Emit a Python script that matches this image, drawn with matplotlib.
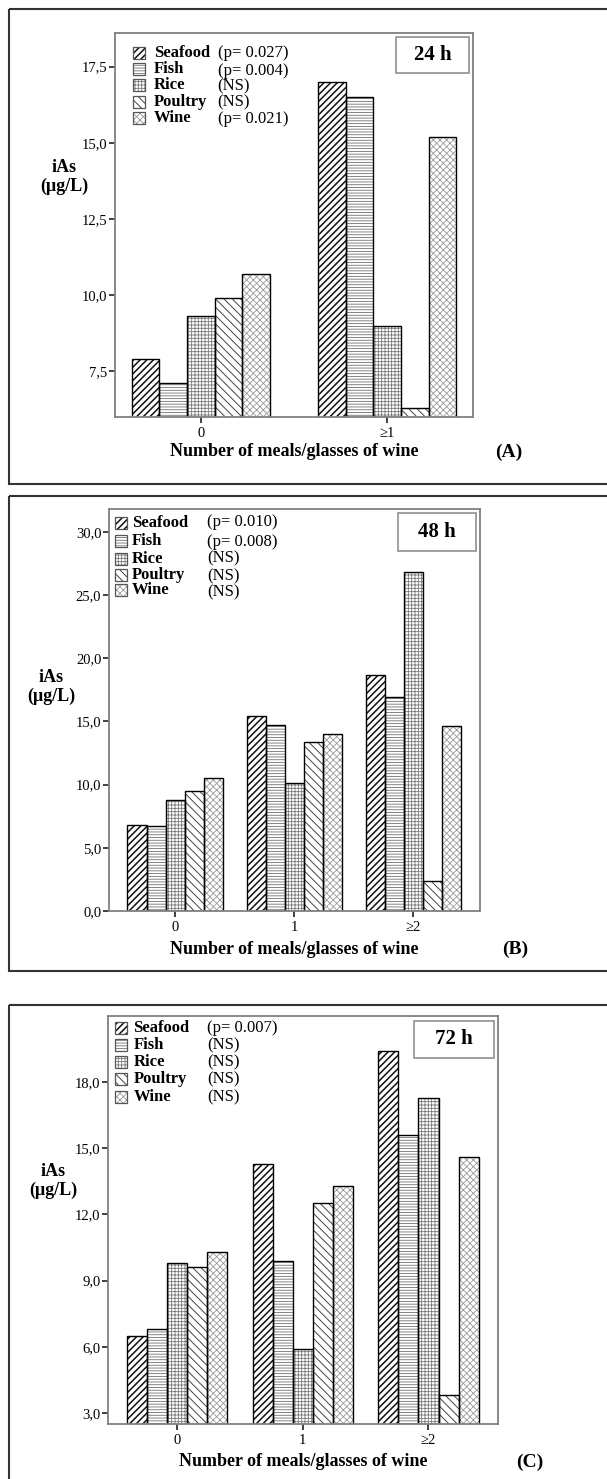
import numpy as np
import matplotlib
matplotlib.use('Agg')
import matplotlib.pyplot as plt
from matplotlib.patches import Rectangle
from matplotlib.ticker import FuncFormatter

plt.rcParams['font.family'] = ['Liberation Serif', 'DejaVu Serif']
plt.rcParams['hatch.linewidth'] = 0.7

foods = ['Seafood', 'Fish', 'Rice', 'Poultry', 'Wine']

# 24 h  (A)
groups_24 = ['0', '≥1']
seafood_24 = [7.9, 17.0]
fish_24 = [7.1, 16.5]
rice_24 = [9.3, 9.0]
poultry_24 = [9.9, 6.3]
wine_24 = [10.7, 15.2]
pvals_24 = ['(p= 0.027)', '(p= 0.004)', '(NS)', '(NS)', '(p= 0.021)']

# 48 h  (B)
groups_48 = ['0', '1', '≥2']
seafood_48 = [6.8, 15.4, 18.7]
fish_48 = [6.7, 14.7, 16.9]
rice_48 = [8.8, 10.1, 26.8]
poultry_48 = [9.5, 13.4, 2.4]
wine_48 = [10.5, 14.0, 14.6]
pvals_48 = ['(p= 0.010)', '(p= 0.008)', '(NS)', '(NS)', '(NS)']

# 72 h  (C)
groups_72 = ['0', '1', '≥2']
seafood_72 = [6.5, 14.3, 19.4]
fish_72 = [6.8, 9.9, 15.6]
rice_72 = [9.8, 5.9, 17.3]
poultry_72 = [9.6, 12.5, 3.8]
wine_72 = [10.3, 13.3, 14.6]
pvals_72 = ['(p= 0.007)', '(NS)', '(NS)', '(NS)', '(NS)']

# hatch pattern, hatch colour and hatch line width per food
hatches = ['/////', '------', '+++++', '\\\\\\\\', 'xxxxx']
hatch_cols = ['#111111', '#707070', '#7a7a7a', '#444444', '#999999']
hatch_lws = [1.1, 0.6, 0.6, 0.7, 0.6]

W, H = 607, 1479
fig = plt.figure(figsize=(W / 100, H / 100), dpi=100)
fig.patch.set_facecolor('white')

# overlay in pixel coordinates for boxes, legends and labels
ov = fig.add_axes([0, 0, 1, 1], zorder=10)
ov.set_xlim(0, W)
ov.set_ylim(H, 0)
ov.axis('off')
ov.patch.set_alpha(0)


def comma(v, pos):
    return f'{v:.1f}'.replace('.', ',')


def panel(rect, groups, series, width, xlim, ylim, yticks):
    x0, y0, x1, y1 = rect
    ax = fig.add_axes([x0 / W, 1 - y1 / H, (x1 - x0) / W, (y1 - y0) / H])
    x = np.arange(len(groups))
    for i, vals in enumerate(series):
        pos = x + (i - 2) * width
        with plt.rc_context({'hatch.linewidth': hatch_lws[i]}):
            ax.bar(pos, vals, width, color='white', edgecolor=hatch_cols[i],
                   hatch=hatches[i], linewidth=0, zorder=2)
        ax.bar(pos, vals, width, fill=False, edgecolor='black',
               linewidth=1.0, zorder=3)
    ax.set_xlim(*xlim)
    ax.set_ylim(*ylim)
    ax.set_xticks(x)
    ax.set_xticklabels(groups)
    ax.set_yticks(yticks)
    ax.yaxis.set_major_formatter(FuncFormatter(comma))
    ax.tick_params(axis='y', direction='out', length=4.5, width=1.3,
                   pad=1, labelsize=10.5, color='#333333')
    ax.tick_params(axis='x', direction='out', length=4.5, width=1.3,
                   pad=3, labelsize=10.5, color='#333333')
    for s in ax.spines.values():
        s.set_color('#808080')
        s.set_linewidth(1.3)
        s.set_zorder(4)
    return ax


def legend(px, label_x, p_x, rows, prows, pvals):
    for i, (yc, yp) in enumerate(zip(rows, prows)):
        with plt.rc_context({'hatch.linewidth': hatch_lws[i]}):
            ov.add_patch(Rectangle((px, yc - 6), 12, 12, facecolor='white',
                                   edgecolor=hatch_cols[i], hatch=hatches[i],
                                   linewidth=0))
        ov.add_patch(Rectangle((px, yc - 6), 12, 12, fill=False,
                               edgecolor='#555555', linewidth=0.9))
        ov.text(label_x, yc, foods[i], fontsize=12, fontweight='bold',
                va='center', ha='left')
        ov.text(p_x, yp, pvals[i], fontsize=12, va='center', ha='left')


def decor(box, tbox, tlabel, ylab, xlab, plab):
    bx0, by0, bx1, by1 = box
    ov.add_patch(Rectangle((bx0, by0), bx1 - bx0, by1 - by0, fill=False,
                           edgecolor='#333333', linewidth=1.5, clip_on=False))
    tx0, ty0, tx1, ty1 = tbox
    ov.add_patch(Rectangle((tx0, ty0), tx1 - tx0, ty1 - ty0, fill=False,
                           edgecolor='#909090', linewidth=1.2))
    ov.text((tx0 + tx1) / 2, (ty0 + ty1) / 2, tlabel, fontsize=15,
            fontweight='bold', ha='center', va='center')
    ov.text(ylab[0], ylab[1], 'iAs\n(μg/L)', fontsize=13, fontweight='bold',
            ha='center', va='center', linespacing=1.15)
    ov.text(xlab[0], xlab[1], 'Number of meals/glasses of wine', fontsize=13,
            fontweight='bold', ha='center', va='center')
    ov.text(plab[0], plab[1], plab[2], fontsize=14, fontweight='bold',
            ha='center', va='center')


# panel A
panel((115, 33, 473, 417), groups_24,
      [seafood_24, fish_24, rice_24, poultry_24, wine_24],
      0.148, (-0.46, 1.46), (6.0, 18.6), [7.5, 10.0, 12.5, 15.0, 17.5])
decor((9, 9, 640, 484), (396, 37, 469, 73), '24 h', (64, 177),
      (294, 452), (509, 452, '(A)'))
legend(133, 154, 217.5, [53, 69, 85, 102, 118], [53, 71, 86, 102, 119],
       pvals_24)

# panel B
panel((109, 509, 480, 911), groups_48,
      [seafood_48, fish_48, rice_48, poultry_48, wine_48],
      0.16, (-0.555, 2.56), (0.0, 31.8), [0, 5, 10, 15, 20, 25, 30])
decor((9, 496, 640, 971), (398, 513, 476, 551), '48 h', (51.5, 687),
      (294, 949), (515, 949, '(B)'))
legend(115, 132, 207, [523, 541, 559, 575, 590], [522, 542, 558, 576, 592],
       pvals_48)

# panel C
panel((108, 1016, 497.5, 1424), groups_72,
      [seafood_72, fish_72, rice_72, poultry_72, wine_72],
      0.159, (-0.545, 2.548), (2.5, 21.0), [3, 6, 9, 12, 15, 18])
decor((9, 1005, 640, 1520), (414, 1021, 493.5, 1058), '72 h', (53, 1181),
      (303, 1462), (530, 1462, '(C)'))
legend(115, 133.5, 207, [1028, 1045, 1062, 1079, 1097],
       [1028, 1045, 1062, 1079, 1097], pvals_72)

fig.savefig('out.png', dpi=100)
